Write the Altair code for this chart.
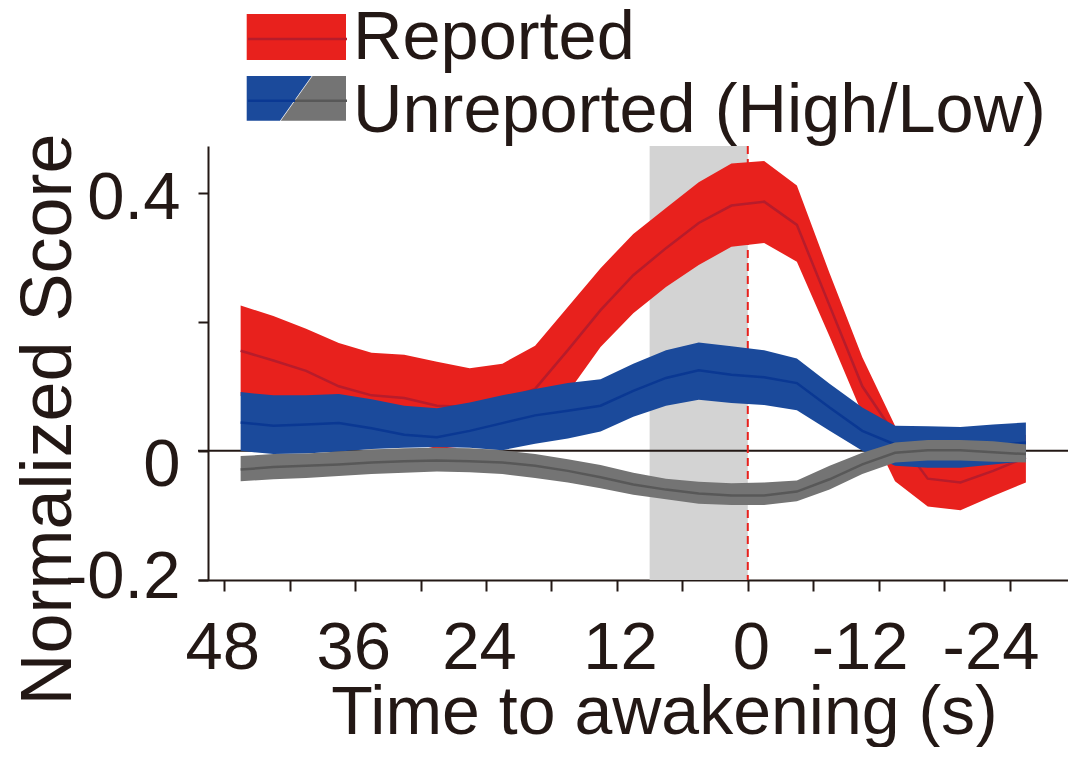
import altair as alt
import pandas as pd

# ---------------- data ----------------
time_s = [46.5, 43.5, 40.5, 37.5, 34.5, 31.5, 28.5, 25.5, 22.5, 19.5, 16.5, 13.5,
          10.5, 7.5, 4.5, 1.5, -1.5, -4.5, -7.5, -10.5, -13.5, -16.5, -19.5, -22.5, -25.5]

rep_hi = [0.225, 0.209, 0.189, 0.167, 0.152, 0.149, 0.138, 0.128, 0.135, 0.163, 0.223, 0.283,
          0.336, 0.376, 0.416, 0.445, 0.449, 0.411, 0.275, 0.145, 0.039, 0.002, -0.004, 0.008, 0.025]
rep_mean = [0.155, 0.140, 0.124, 0.100, 0.086, 0.082, 0.070, 0.068, 0.078, 0.096, 0.156, 0.218,
            0.272, 0.314, 0.353, 0.380, 0.386, 0.350, 0.225, 0.100, 0.025, -0.043, -0.049, -0.031, -0.010]
rep_lo = [0.085, 0.071, 0.058, 0.032, 0.019, 0.015, 0.003, 0.008, 0.021, 0.029, 0.090, 0.161,
          0.213, 0.254, 0.288, 0.316, 0.322, 0.293, 0.177, 0.057, -0.047, -0.086, -0.092, -0.070, -0.049]

high_hi = [0.091, 0.086, 0.086, 0.088, 0.080, 0.070, 0.066, 0.075, 0.086, 0.096, 0.105, 0.111,
           0.135, 0.156, 0.168, 0.162, 0.156, 0.143, 0.104, 0.067, 0.039, 0.038, 0.037, 0.041, 0.044]
high_mean = [0.044, 0.039, 0.041, 0.043, 0.035, 0.025, 0.021, 0.031, 0.043, 0.055, 0.062, 0.070,
             0.093, 0.113, 0.125, 0.118, 0.114, 0.105, 0.067, 0.031, 0.010, 0.005, 0.004, 0.008, 0.013]
high_lo = [0.000, -0.005, -0.004, -0.001, 0.003, 0.005, 0.006, 0.005, 0.001, 0.011, 0.019, 0.030,
           0.053, 0.070, 0.079, 0.074, 0.071, 0.063, 0.031, 0.000, -0.023, -0.026, -0.026, -0.021, -0.016]

low_hi = [-0.008, -0.005, -0.004, -0.001, 0.002, 0.004, 0.005, 0.004, 0.001, -0.005, -0.013, -0.022,
          -0.034, -0.043, -0.048, -0.050, -0.049, -0.046, -0.023, -0.003, 0.013, 0.017, 0.017, 0.015, 0.010]
low_mean = [-0.029, -0.025, -0.023, -0.021, -0.018, -0.016, -0.015, -0.016, -0.018, -0.023, -0.031, -0.041,
            -0.052, -0.060, -0.066, -0.069, -0.069, -0.063, -0.044, -0.021, -0.003, 0.001, 0.001, -0.002, -0.005]
low_lo = [-0.047, -0.044, -0.042, -0.039, -0.036, -0.034, -0.032, -0.033, -0.036, -0.042, -0.049, -0.058,
          -0.068, -0.075, -0.082, -0.084, -0.084, -0.078, -0.060, -0.036, -0.018, -0.015, -0.015, -0.017, -0.018]

shade_span = [9, 0]          # grey window before awakening (s)
event_time = [0]             # awakening
baseline_value = [0]         # zero score
legend_labels = ["Reported", "Unreported (High/Low)"]
x_ticks = [48, 42, 36, 30, 24, 18, 12, 6, 0, -6, -12, -18, -24]
y_ticks = [-0.2, 0, 0.2, 0.4]

# ---------------- styling ----------------
FONT = "Liberation Sans"
INK = "#231815"
RED, RED_LINE = "#E8211D", "#B71C2B"
BLUE, BLUE_LINE = "#1B4A9B", "#0A3893"
GREY, GREY_LINE = "#747474", "#585858"
SHADE = "#D3D3D3"

W, H = 870, 434
xs = alt.Scale(domain=[50.41, -29.36], nice=False, zero=False)
ys = alt.Scale(domain=[-0.2, 0.4722], nice=False, zero=False)

x_axis = alt.Axis(
    values=x_ticks,
    labelExpr="datum.value % 12 == 0 ? (datum.value < 0 ? '-' + (-datum.value) : '' + datum.value) : ''",
    title="Time to awakening (s)",
    grid=False, domainColor=INK, domainWidth=2, tickColor=INK, tickWidth=2, tickSize=11,
    labelFont=FONT, labelFontSize=67, labelColor=INK, labelPadding=24, labelFlush=False,
    labelOverlap=False, labelBaseline="top",
    labelOffset={"condition": [{"test": "datum.value == 24", "value": -7},
                               {"test": "datum.value < 0", "value": -19},
                               {"test": "datum.value >= 0 && datum.value <= 12", "value": 3}],
                 "value": -2},
    titleFont=FONT, titleFontSize=68, titleFontWeight="normal", titleColor=INK,
    titleX=466, titleY=153, titleBaseline="alphabetic", titleAlign="center", titleAngle=0,
)
y_axis = alt.Axis(
    values=y_ticks,
    labelExpr="abs(datum.value - 0.2) < 1e-9 ? '' : (datum.value == 0 ? '0' : (datum.value < 0 ? '-' + format(-datum.value, '.1f') : format(datum.value, '.1f')))",
    title="Normalized Score",
    offset=-10,
    grid=False, domainColor=INK, domainWidth=2, tickColor=INK, tickWidth=2, tickSize=10,
    labelFont=FONT, labelFontSize=67, labelColor=INK, labelPadding=18, labelFlush=False,
    labelOverlap=False, labelBaseline="middle", labelAlign="right",
    labelOffset={"condition": [{"test": "datum.value == 0", "value": 15},
                               {"test": "datum.value < 0", "value": -3}], "value": 6},
    titleFont=FONT, titleFontSize=72, titleFontWeight="normal", titleColor=INK,
    titleX=-138, titleY=273, titleBaseline="alphabetic", titleAlign="center", titleAngle=270,
)


def X(field):
    return alt.X(field, type="quantitative", scale=xs, axis=x_axis)


def Y(field):
    return alt.Y(field, type="quantitative", scale=ys, axis=y_axis)


layers = []

# grey window
shade_df = pd.DataFrame({"start": [shade_span[0]], "end": [shade_span[1]]})
layers.append(alt.Chart(shade_df).mark_rect(color=SHADE).encode(
    x=X("start"), x2="end", y=alt.value(0), y2=alt.value(H)))

# zero line
layers.append(alt.Chart(pd.DataFrame({"v": baseline_value})).mark_rule(
    color=INK, strokeWidth=2).encode(y=Y("v")))

# awakening line
layers.append(alt.Chart(pd.DataFrame({"t": event_time})).mark_rule(
    color=RED, strokeWidth=2, strokeDash=[8, 5]).encode(x=X("t")))

# bands with mean lines
for lo, hi, mean, fill, line in [
    (rep_lo, rep_hi, rep_mean, RED, RED_LINE),
    (high_lo, high_hi, high_mean, BLUE, BLUE_LINE),
    (low_lo, low_hi, low_mean, GREY, GREY_LINE),
]:
    d = pd.DataFrame({"t": time_s, "lo": lo, "hi": hi, "mean": mean})
    layers.append(alt.Chart(d).mark_area(color=fill, opacity=1, strokeWidth=0).encode(
        x=X("t"), y=Y("lo"), y2="hi"))
    layers.append(alt.Chart(d).mark_line(color=line, strokeWidth=2.5).encode(
        x=X("t"), y=Y("mean")))

# ---------------- legend (drawn above the plot area) ----------------
one = pd.DataFrame({"k": [0]})
BLUE_PART = "M-1,-0.45L0.309,-0.45L-0.329,0.45L-1,0.45Z"
GREY_PART = "M0.325,-0.45L1,-0.45L1,0.45L-0.313,0.45Z"

layers.append(alt.Chart(one).mark_rect(color=RED).encode(
    x=alt.value(48.7), x2=alt.value(148), y=alt.value(-132), y2=alt.value(-86)))
layers.append(alt.Chart(one).mark_rule(color=RED_LINE, strokeWidth=2.5).encode(
    x=alt.value(50), x2=alt.value(149), y=alt.value(-107)))

layers.append(alt.Chart(one).mark_point(shape=BLUE_PART, filled=True, size=9860, color=BLUE,
                                        opacity=1, strokeWidth=0).encode(
    x=alt.value(98.35), y=alt.value(-47.65)))
layers.append(alt.Chart(one).mark_point(shape=GREY_PART, filled=True, size=9860, color=GREY,
                                        opacity=1, strokeWidth=0).encode(
    x=alt.value(98.35), y=alt.value(-47.65)))
layers.append(alt.Chart(one).mark_rule(color=BLUE_LINE, strokeWidth=2.5).encode(
    x=alt.value(50), x2=alt.value(97), y=alt.value(-45.3)))
layers.append(alt.Chart(one).mark_rule(color=GREY_LINE, strokeWidth=2.5).encode(
    x=alt.value(97), x2=alt.value(149), y=alt.value(-45.3)))

for label, ybase in zip(legend_labels, [-86.7, -14.5]):
    layers.append(alt.Chart(one).mark_text(
        text=label, align="left", baseline="alphabetic", font=FONT, fontSize=68.5, color=INK
    ).encode(x=alt.value(155), y=alt.value(ybase)))

chart = alt.layer(*layers).properties(
    width=W, height=H,
    padding={"left": 190, "top": 138, "right": 0, "bottom": 167},
    autosize=alt.AutoSizeParams(type="none"),
).configure(font=FONT).configure_view(stroke=None)

chart.save("out.html", embed_options={"renderer": "svg", "actions": False})
